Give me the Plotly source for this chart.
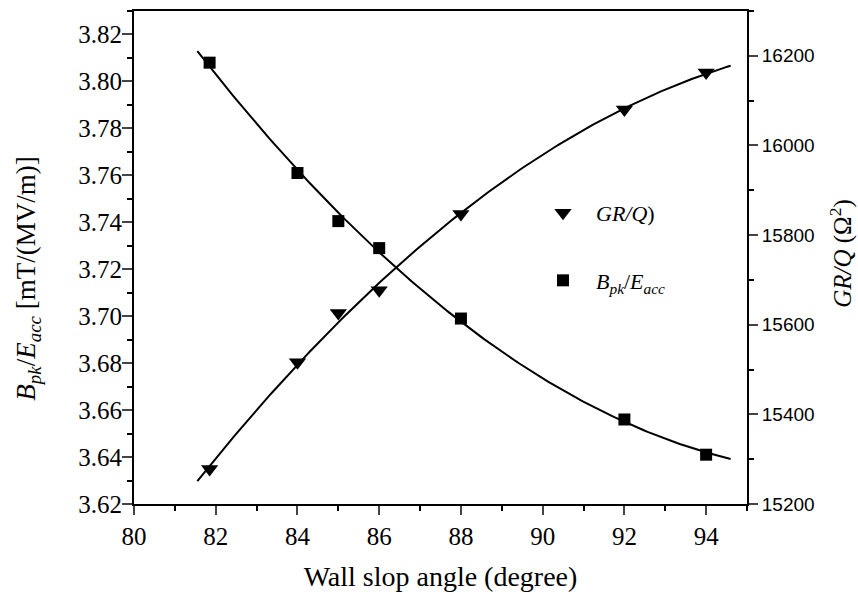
import numpy as np
import plotly.graph_objects as go

angle = [81.85, 84, 85, 86, 88, 92, 94]
bpk_eacc = [3.808, 3.761, 3.7405, 3.729, 3.699, 3.656, 3.641]
grq = [15278, 15516, 15626, 15677, 15847, 16080, 16163]

fit_x = np.linspace(81.55, 94.6, 200)
c1 = np.polyfit(angle, bpk_eacc, 2)
c2 = np.polyfit(angle, grq, 2)

fig = go.Figure()
fig.add_trace(go.Scatter(x=fit_x, y=np.polyval(c1, fit_x), mode="lines",
                         line=dict(color="black", width=2), showlegend=False))
fig.add_trace(go.Scatter(x=fit_x, y=np.polyval(c2, fit_x), mode="lines", yaxis="y2",
                         line=dict(color="black", width=2), showlegend=False))
fig.add_trace(go.Scatter(x=angle, y=grq, mode="markers", yaxis="y2", legendgroup="a",
                         marker=dict(symbol="triangle-down", size=15, color="black"),
                         name="<i>GR/Q</i>)"))
fig.add_trace(go.Scatter(x=angle, y=bpk_eacc, mode="markers", legendgroup="b",
                         marker=dict(symbol="square", size=12, color="black"),
                         name="<i>B</i><sub><i>pk</i></sub>/<i>E</i><sub><i>acc</i></sub>"))

serif = "Liberation Serif"
sans = "Liberation Sans"

fig.update_layout(
    width=858, height=596,
    margin=dict(l=134, r=111, t=9, b=92),
    plot_bgcolor="white", paper_bgcolor="white",
    xaxis=dict(range=[80, 95], dtick=2, tick0=80, ticks="outside", ticklen=9, tickwidth=2,
               showline=True, linewidth=2, linecolor="black", mirror=True, showgrid=False,
               zeroline=False,
               tickfont=dict(family=serif, size=25, color="black"),
               minor=dict(ticks="outside", dtick=1, ticklen=5, tickwidth=2, tickcolor="black"),
               title=dict(text="Wall slop angle (degree)", font=dict(family=serif, size=28, color="black"),
                          standoff=17)),
    yaxis=dict(range=[3.62, 3.83], dtick=0.02, tick0=3.62, tickformat=".2f", ticks="outside",
               ticklen=10, tickwidth=2, showline=True, linewidth=2, linecolor="black",
               showgrid=False, zeroline=False, ticklabelstandoff=-5,
               tickfont=dict(family=serif, size=25, color="black"),
               minor=dict(ticks="outside", dtick=0.01, ticklen=5, tickwidth=2, tickcolor="black")),
    yaxis2=dict(range=[15200, 16300], dtick=200, tick0=15200, overlaying="y", side="right",
                tickformat="d",
                ticks="outside", ticklen=9, tickwidth=2, showline=True, linewidth=2,
                linecolor="black", showgrid=False, zeroline=False,
                tickfont=dict(family=sans, size=19, color="black"),
                minor=dict(ticks="outside", dtick=100, ticklen=5, tickwidth=2, tickcolor="black")),
    legend=dict(x=0.646, y=0.633, xanchor="left", yanchor="top", bgcolor="rgba(0,0,0,0)",
                font=dict(family=serif, size=22, color="black"), tracegroupgap=36,
                itemwidth=56),
    showlegend=True,
    annotations=[
        dict(text="<i>B</i><sub><i>pk</i></sub>/<i>E</i><sub><i>acc</i></sub> [mT/(MV/m)]",
             xref="paper", yref="paper", x=-0.173, y=0.457, xanchor="center", yanchor="middle",
             textangle=-90, showarrow=False, font=dict(family=serif, size=27, color="black")),
        dict(text="<i>GR/Q</i> (Ω<sup>2</sup>)",
             xref="paper", yref="paper", x=1.153, y=0.509, xanchor="center", yanchor="middle",
             textangle=-90, showarrow=False, font=dict(family=serif, size=25, color="black")),
    ],
)

fig.write_html("out.html")
